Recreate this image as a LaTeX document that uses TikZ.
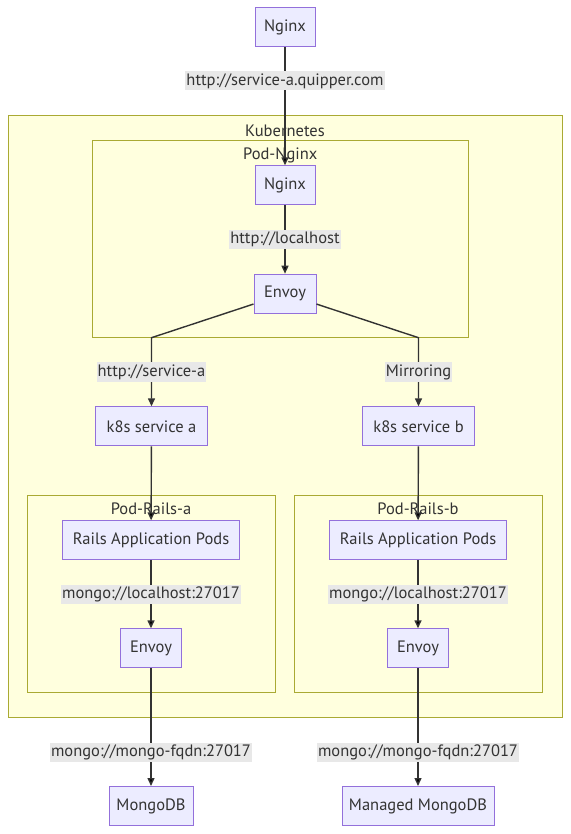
\documentclass[tikz,border=0pt]{standalone}
\usepackage{fontspec}
\setmainfont{PT Sans}
\usetikzlibrary{arrows.meta}
\definecolor{boxfill}{HTML}{ECECFF}
\definecolor{boxline}{HTML}{9370DB}
\definecolor{clfill}{HTML}{FFFFDE}
\definecolor{clline}{HTML}{AAAA33}
\definecolor{lblfill}{HTML}{E8E8E8}
\definecolor{ink}{HTML}{333333}
\begin{document}
\begin{tikzpicture}[x=1pt, y=-1pt, >={Triangle[length=8pt,width=7pt]},
			font=\fontsize{16.5}{19}\selectfont, text=ink,
			svc/.style={draw=boxline, fill=boxfill, line width=1pt,
				minimum height=39pt, inner sep=0pt, text centered},
			cluster/.style={draw=clline, fill=clfill, line width=1pt, inner sep=0pt},
			ctitle/.style={inner sep=0pt},
			lbl/.style={fill=lblfill, inner xsep=1pt, inner ysep=2pt},
			link/.style={draw=ink, line width=1.4pt}]
			\useasboundingbox (0,0) rectangle (570,834);
			% clusters
			\node[cluster, minimum width=554pt, minimum height=602pt] (k8s) at (285,416.7) {};
			\node[cluster, minimum width=376pt, minimum height=197pt] (podn) at (280.2,239.3) {};
			\node[cluster, minimum width=248pt, minimum height=197pt] (poda) at (151,594.2) {};
			\node[cluster, minimum width=248pt, minimum height=197pt] (podb) at (418,594.2) {};
			\node[ctitle] (k8st) at (285,130.7) {Kubernetes};
			\node[ctitle] (podnt) at (280.2,155) {Pod-Nginx};
			\node[ctitle] (podat) at (151,509) {Pod-Rails-a};
			\node[ctitle] (podbt) at (418,509) {Pod-Rails-b};
			
			% boxes
			\node[svc, minimum width=60pt] (ngx0) at (285,27.3) {Nginx};
			\node[svc, minimum width=60pt] (ngx1) at (285,185.3) {Nginx};
			\node[svc, minimum width=62pt] (env0) at (285,293.7) {Envoy};
			\node[svc, minimum width=112pt] (svca) at (151.5,426.3) {k8s service a};
			\node[svc, minimum width=112pt] (svcb) at (418.5,426.3) {k8s service b};
			\node[svc, minimum width=177pt] (rlsa) at (151,540.3) {Rails Application Pods};
			\node[svc, minimum width=177pt] (rlsb) at (418,540.3) {Rails Application Pods};
			\node[svc, minimum width=61pt] (enva) at (151,648.3) {Envoy};
			\node[svc, minimum width=61pt] (envb) at (418,648.3) {Envoy};
			\node[svc, minimum width=84pt] (mgo) at (151,806) {MongoDB};
			\node[svc, minimum width=152pt] (mmgo) at (418,806) {Managed MongoDB};
			\coordinate (ca) at (151.5,337.7);
			\coordinate (cb) at (418.5,337.7);
			
			\path[link, ->] 	(ngx0)  edge  node[lbl, pos=0.285] {http://service-a.quipper.com}  (ngx1);
			\path[link, ->] 	(ngx1)  edge  node[lbl] {http://localhost}  (env0);
			\draw[link, ->] 	(env0) -- (ca) -- node[lbl] {http://service-a} (svca);
			\draw[link, ->] 	(env0) -- (cb) -- node[lbl] {Mirroring} (svcb);
			\path[link, ->] 	(svca)  edge   (rlsa);
			\path[link, ->] 	(svcb)  edge   (rlsb);
			\path[link, ->] 	(rlsa)  edge  node[lbl] {mongo://localhost:27017}  (enva);
			\path[link, ->] 	(rlsb)  edge  node[lbl] {mongo://localhost:27017}  (envb);
			\path[link, ->] 	(enva)  edge  node[lbl, pos=0.716] {mongo://mongo-fqdn:27017}  (mgo);
			\path[link, ->] 	(envb)  edge  node[lbl, pos=0.716] {mongo://mongo-fqdn:27017}  (mmgo);
\end{tikzpicture}
\end{document}
